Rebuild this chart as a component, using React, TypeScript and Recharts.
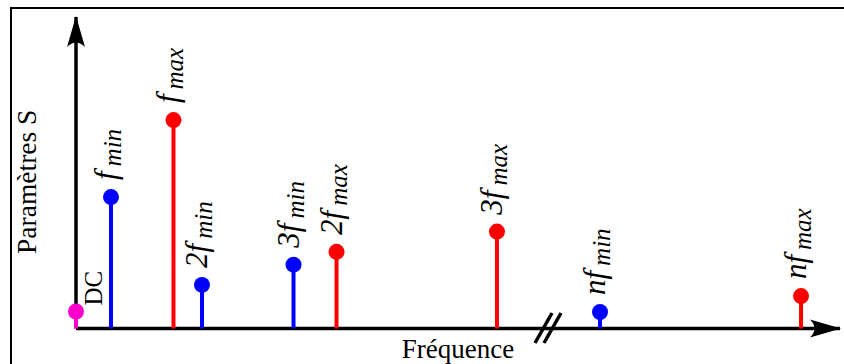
import React from 'react';
import { ComposedChart, XAxis, YAxis, Scatter, ReferenceLine, ReferenceDot } from 'recharts';

// Harmonic names (prefix_subscript), frequencies (arbitrary units) and amplitudes
const names = ['DC', 'f_min', 'f_max', '2f_min', '3f_min', '2f_max', '3f_max', 'nf_min', 'nf_max'];
const freqs = [0, 4.58, 12.76, 16.49, 28.47, 34.1, 55.1, 68.59, 94.9];
const amps = [5.46, 42.2, 66.9, 14.0, 20.5, 24.6, 31.1, 5.3, 10.4];
const kinds = ['dc', 'min', 'max', 'min', 'min', 'max', 'max', 'min', 'max'];
const xLabel = 'Fréquence';
const yLabel = 'Paramètres S';
const xMax = 100;
const yMax = 100;
const axisBreak = 61.78;

const colors: Record<string, string> = { dc: '#ff00cc', min: '#0000ff', max: '#ff0000' };
const serif = '"Liberation Serif", "Times New Roman", serif';

const data = names.map((n, i) => ({ name: n, freq: freqs[i], amp: amps[i], kind: kinds[i] }));

const StemHead = (props: any) => {
  const { cx, cy, payload } = props;
  if (cx == null || cy == null) return null;
  const color = colors[payload.kind];
  const name: string = payload.name;
  let label;
  if (!name.includes('_')) {
    const lx = cx + 26;
    const ly = cy - 6;
    label = (
      <text x={lx} y={ly} transform={`rotate(-90 ${lx} ${ly})`} fontFamily={serif} fontSize={25} fill="#000">
        {name}
      </text>
    );
  } else {
    const [main, sub] = name.split('_');
    const lx = cx + 5;
    const ly = cy - 17;
    label = (
      <text x={lx} y={ly} transform={`rotate(-90 ${lx} ${ly})`} fontFamily={serif} fill="#000">
        <tspan fontSize={31} fontStyle="italic">{main}</tspan>
        <tspan fontSize={25} fontStyle="italic" dy={5} dx={5}>{sub}</tspan>
      </text>
    );
  }
  return (
    <g>
      <circle cx={cx} cy={cy} r={8} fill={color} />
      {label}
    </g>
  );
};

const ArrowRight = (props: any) => {
  const { cx, cy } = props;
  const t = cx + 1;
  return <path d={`M${t},${cy} L${t - 31},${cy - 9} Q${t - 22},${cy} ${t - 31},${cy + 9} Z`} fill="#000" />;
};

const ArrowUp = (props: any) => {
  const { cx, cy } = props;
  const t = cy - 1;
  return <path d={`M${cx},${t} L${cx - 9},${t + 31} Q${cx},${t + 22} ${cx + 9},${t + 31} Z`} fill="#000" />;
};

const BreakMark = (props: any) => {
  const { cx, cy } = props;
  return (
    <g stroke="#000" strokeWidth={3.5}>
      <line x1={cx - 13} y1={cy + 14.5} x2={cx + 4} y2={cy - 15.5} />
      <line x1={cx - 4} y1={cy + 14.5} x2={cx + 13} y2={cy - 15.5} />
    </g>
  );
};

const XTitle = (props: any) => {
  const vb = props.viewBox || {};
  return (
    <text x={vb.x + vb.width / 2} y={vb.y + (vb.height || 0) + 29} textAnchor="middle" fontFamily={serif} fontSize={27} fill="#000">
      {xLabel}
    </text>
  );
};

const YTitle = (props: any) => {
  const vb = props.viewBox || {};
  const x = vb.x + (vb.width || 0) - 40;
  const y = vb.y + vb.height / 2 + 9;
  return (
    <text x={x} y={y} transform={`rotate(-90 ${x} ${y})`} textAnchor="middle" fontFamily={serif} fontSize={27.5} fill="#000">
      {yLabel}
    </text>
  );
};

export default function App() {
  return (
    <div style={{ position: 'absolute', left: 0, top: 0, width: 844, height: 364, background: '#fff', overflow: 'hidden' }}>
      <div
        style={{
          position: 'absolute',
          left: 10,
          top: 7,
          width: 834,
          height: 357,
          borderTop: '2px solid #000',
          borderLeft: '2px solid #000',
          boxSizing: 'border-box',
        }}
      />
      <div style={{ position: 'absolute', left: 0, top: 0 }}>
        <ComposedChart width={844} height={364} data={data} margin={{ top: 17, right: 4, bottom: 35.5, left: 76 }}>
          <XAxis type="number" dataKey="freq" domain={[0, xMax]} hide />
          <YAxis type="number" dataKey="amp" domain={[0, yMax]} hide />
          <ReferenceLine
            segment={[{ x: 0, y: 0 }, { x: xMax, y: 0 }]}
            stroke="#000"
            strokeWidth={3.5}
            ifOverflow="visible"
            label={<XTitle />}
          />
          <ReferenceLine
            segment={[{ x: 0, y: 0 }, { x: 0, y: yMax }]}
            stroke="#000"
            strokeWidth={3.5}
            ifOverflow="visible"
            label={<YTitle />}
          />
          {data.map((d) => (
            <ReferenceLine
              key={d.name}
              segment={[{ x: d.freq, y: 0 }, { x: d.freq, y: d.amp }]}
              stroke={colors[d.kind]}
              strokeWidth={4}
              ifOverflow="visible"
            />
          ))}
          <ReferenceDot x={xMax} y={0} ifOverflow="visible" shape={<ArrowRight />} />
          <ReferenceDot x={0} y={yMax} ifOverflow="visible" shape={<ArrowUp />} />
          <ReferenceDot x={axisBreak} y={0} ifOverflow="visible" shape={<BreakMark />} />
          <Scatter dataKey="amp" shape={<StemHead />} isAnimationActive={false} />
        </ComposedChart>
      </div>
    </div>
  );
}
